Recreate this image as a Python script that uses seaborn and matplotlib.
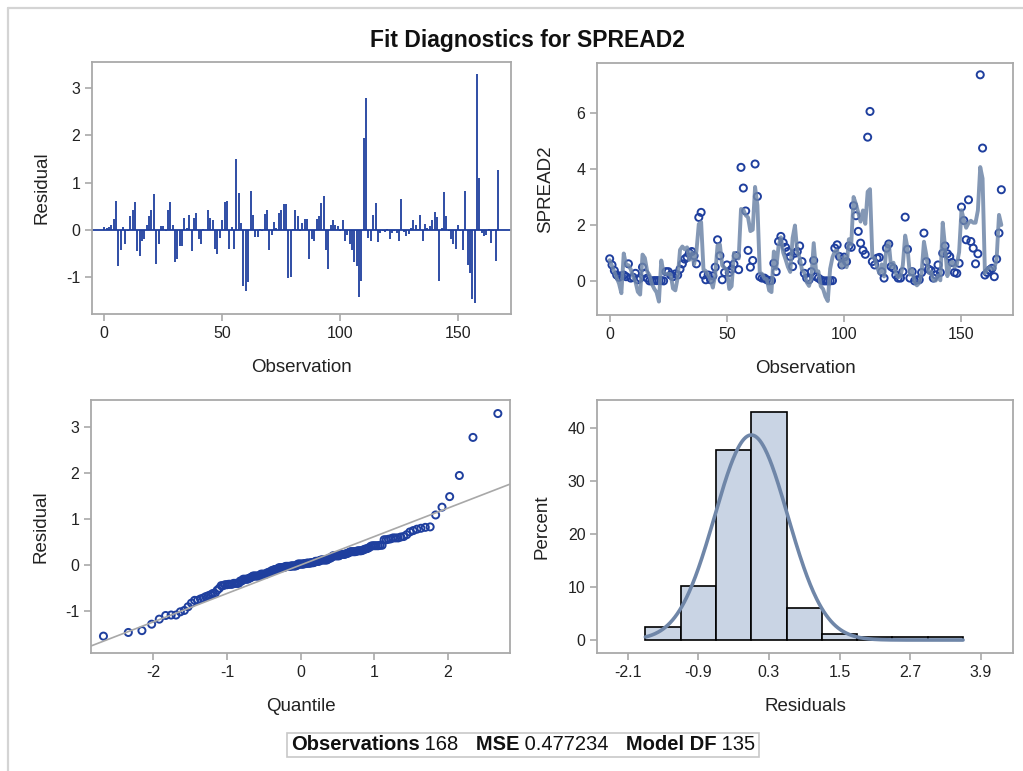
import numpy as np
import pandas as pd
import matplotlib
matplotlib.use("Agg")
import matplotlib.pyplot as plt
import seaborn as sns
from statistics import NormalDist
from matplotlib.patches import Rectangle
from matplotlib.lines import Line2D

# ---------------- data ----------------
spread2 = [
    0.79, 0.57, 0.37, 0.21, 0.13, 0.18, 0.21, 0.15, 0.61, 0.10,
    0.13, 0.27, 0.04, 0.10, 0.49, 0.27, 0.10, 0.00, 0.00, 0.01,
    0.01, 0.01, 0.01, 0.00, 0.33, 0.33, 0.21, 0.15, 0.25, 0.21,
    0.42, 0.61, 0.78, 0.85, 1.00, 1.05, 0.90, 0.61, 2.27, 2.45,
    0.21, 0.04, 0.21, 0.04, 0.18, 0.49, 1.47, 0.90, 0.04, 0.30,
    0.57, 0.30, 0.42, 0.60, 0.90, 0.40, 4.06, 3.32, 2.50, 1.09,
    0.49, 0.73, 4.18, 3.02, 0.15, 0.10, 0.10, 0.04, 0.00, 0.01,
    0.63, 0.33, 1.41, 1.59, 1.37, 1.20, 1.05, 0.87, 0.51, 0.99,
    1.05, 1.25, 0.69, 0.27, 0.10, 0.04, 0.33, 0.73,
    0.15, 0.10, 0.04, 0.00, 0.00, 0.00, 0.00, 0.01, 1.17, 1.29,
    0.87, 0.57, 0.85, 0.69, 1.25, 1.20, 2.69, 2.33, 1.77, 1.35,
    1.09, 0.95, 5.14, 6.06, 0.69, 0.57, 0.81, 0.84, 0.33, 0.10,
    1.17, 1.32, 0.51, 0.45, 0.21, 0.10, 0.10, 0.33, 2.28, 1.13,
    0.10, 0.33, 0.00, 0.04, 0.04, 0.30, 1.71, 0.69, 0.42, 0.37,
    0.10, 0.21, 0.57, 0.30, 0.99, 1.25, 0.97, 0.87, 0.66, 0.30,
    0.27, 0.63, 2.64, 2.16, 1.47, 2.90, 1.41, 1.17, 0.61, 0.97,
    7.37, 4.75, 0.21, 0.30, 0.39, 0.45, 0.15, 0.78, 1.71, 3.26,
]

residual = [
    0.05, 0.04, 0.06, 0.11, 0.23, 0.62, -0.77, -0.42, 0.05, -0.31,
    -0.02, 0.30, 0.43, 0.59, -0.45, -0.55, -0.24, -0.20, 0.11, 0.29,
    0.42, 0.75, -0.72, -0.29, 0.08, 0.08, -0.03, 0.42, 0.59, 0.10,
    -0.69, -0.62, -0.35, -0.35, 0.25, 0.03, 0.31, -0.45, 0.24, 0.35,
    -0.20, -0.31, 0.02, -0.01, 0.42, 0.26, 0.20, -0.40, -0.51, -0.17,
    0.20, 0.59, 0.61, -0.40, 0.05, -0.40, 1.49, 0.78, 0.15, -1.18,
    -1.29, -1.10, 0.82, 0.32, -0.15, -0.15, 0.02, -0.02, 0.34, 0.41,
    -0.42, -0.10, 0.17, 0.03, 0.36, 0.43, 0.55, 0.55, -1.02, -0.99,
    0.02, 0.42, 0.29, -0.02, 0.15, 0.22, 0.23, -0.62, -0.20, -0.24,
    0.23, 0.29, 0.56, 0.72, -0.43, -0.83, 0.11, 0.20, 0.11, 0.08,
    -0.02, 0.20, -0.24, -0.10, -0.31, -0.42, -0.67, -0.77, -1.43, -1.09,
    1.95, 2.78, -0.17, -0.24, 0.31, 0.57, -0.26, -0.06, -0.03, -0.05,
    0.02, -0.20, -0.06, -0.03, -0.06, -0.24, 0.66, -0.05, -0.12, -0.08,
    0.04, 0.20, 0.11, 0.02, 0.31, -0.24, 0.13, 0.04, 0.08, 0.20,
    0.38, 0.28, -1.09, 0.04, 0.80, 0.29, -0.03, -0.20, -0.31, -0.40,
    0.11, -0.03, -0.43, 0.83, -0.74, -0.91, -1.47, -1.55, 3.30, 1.09,
    -0.06, -0.12, -0.10, 0.02, -0.28, -0.02, -0.65, 1.26,
]

hist_edges = [-1.8, -1.2, -0.6, 0.0, 0.6, 1.2, 1.8, 2.4, 3.0, 3.6]
normal_mu = 0.0
normal_sigma = 0.62

title = "Fit Diagnostics for SPREAD2"
footer = [("Observations", True), (" 168", False), ("   MSE", True),
          (" 0.477234", False), ("   Model DF", True), (" 135", False)]

# ---------------- derived frames ----------------
n = len(residual)
obs = np.arange(n)
df = pd.DataFrame({"Observation": obs, "SPREAD2": spread2, "Residual": residual})
df["Predicted"] = df["SPREAD2"] - df["Residual"]
nd = NormalDist()
qq = pd.DataFrame({
    "Quantile": [nd.inv_cdf((i - 0.375) / (n + 0.25)) for i in range(1, n + 1)],
    "Residual": np.sort(df["Residual"].values),
})

# ---------------- style ----------------
sns.set_style("ticks")
plt.rcParams["font.family"] = ["Liberation Sans", "DejaVu Sans"]
plt.rcParams["axes.unicode_minus"] = False
TICK_FS = 11.5
LAB_FS = 13.5
BLUE = "#1F3F9E"
SPINE = "#A9A9A9"
TXT = "#222222"

W, H = 1023, 771
fig = plt.figure(figsize=(W / 100, H / 100), dpi=100)


def rect(l, t, r, b):
    return [l / W, 1 - b / H, (r - l) / W, (b - t) / H]


def style(ax, ypad):
    for s in ax.spines.values():
        s.set_color(SPINE)
        s.set_linewidth(1.3)
    ax.tick_params(axis="both", colors=SPINE, labelcolor=TXT, labelsize=TICK_FS,
                   length=5, width=1.2, direction="out")
    ax.xaxis.label.set_size(LAB_FS)
    ax.yaxis.label.set_size(LAB_FS)
    ax.xaxis.label.set_color(TXT)
    ax.yaxis.label.set_color(TXT)
    ax.xaxis.labelpad = 13
    ax.yaxis.labelpad = ypad


# --- top-left: residual needles
ax1 = fig.add_axes(rect(92, 62, 510.7, 314))
ax1.vlines(df["Observation"], 0, df["Residual"], color=BLUE, lw=1.3)
ax1.axhline(0, color=BLUE, lw=1.3)
ax1.set_xlim(-5.2, 172.3)
ax1.set_ylim(-1.78, 3.55)
ax1.set_xticks([0, 50, 100, 150])
ax1.set_yticks([-1, 0, 1, 2, 3])
ax1.set_xlabel("Observation")
ax1.set_ylabel("Residual")
style(ax1, 11)

# --- top-right: observed and predicted
ax2 = fig.add_axes(rect(597, 62.5, 1013.3, 315))
sns.lineplot(data=df, x="Observation", y="Predicted", ax=ax2, color="#6F86A8",
             lw=2.8, alpha=0.85)
sns.scatterplot(data=df, x="Observation", y="SPREAD2", ax=ax2, marker="o",
                s=26, facecolor="none", edgecolor=BLUE, linewidth=1.4)
ax2.set_xlim(-5.4, 172.1)
ax2.set_ylim(-1.22, 7.81)
ax2.set_xticks([0, 50, 100, 150])
ax2.set_yticks([0, 2, 4, 6])
ax2.set_xlabel("Observation")
ax2.set_ylabel("SPREAD2")
style(ax2, 16)

# --- bottom-left: QQ plot
ax3 = fig.add_axes(rect(91, 400, 510, 653.3))
ax3.axline((0, normal_mu), slope=normal_sigma, color="#A8A8A8", lw=1.2)
sns.scatterplot(data=qq, x="Quantile", y="Residual", ax=ax3, marker="o",
                s=26, facecolor="none", edgecolor=BLUE, linewidth=1.4)
ax3.set_xlim(-2.846, 2.842)
ax3.set_ylim(-1.924, 3.595)
ax3.set_xticks([-2, -1, 0, 1, 2])
ax3.set_yticks([-1, 0, 1, 2, 3])
ax3.set_xlabel("Quantile")
ax3.set_ylabel("Residual")
style(ax3, 11)

# --- bottom-right: histogram with normal curve
ax4 = fig.add_axes(rect(597.3, 400, 1013, 653.3))
sns.histplot(data=df, x="Residual", bins=hist_edges, stat="percent", ax=ax4,
             color="#C9D4E4", edgecolor="black", linewidth=1.2, alpha=1)
bw = hist_edges[1] - hist_edges[0]
xs = np.linspace(hist_edges[0], hist_edges[-1], 400)
ys = [100 * bw * NormalDist(normal_mu, normal_sigma).pdf(v) for v in xs]
sns.lineplot(x=xs, y=ys, ax=ax4, color="#6F86A8", lw=2.6)
ax4.set_xlim(-2.617, 4.449)
ax4.set_ylim(-2.5, 45.2)
ax4.set_xticks([-2.1, -0.9, 0.3, 1.5, 2.7, 3.9])
ax4.set_xticklabels(["-2.1", "-0.9", "0.3", "1.5", "2.7", "3.9"])
ax4.set_yticks([0, 10, 20, 30, 40])
ax4.set_xlabel("Residuals")
ax4.set_ylabel("Percent")
style(ax4, 12)

# --- title
fig.text(527 / W, 1 - 40 / H, title, ha="center", va="center",
         fontsize=16.5, fontweight="bold", color="#111111")

# --- outer frame (left and top only)
fig.add_artist(Line2D([8 / W, 8 / W], [0, 1 - 7.5 / H], transform=fig.transFigure,
                      color="#D4D4D4", lw=1.6))
fig.add_artist(Line2D([8 / W, 1], [1 - 7.5 / H, 1 - 7.5 / H], transform=fig.transFigure,
                      color="#D4D4D4", lw=1.6))

# --- footer
fig.canvas.draw()
renderer = fig.canvas.get_renderer()
parts = []
total = 0.0
for s, bold in footer:
    t = fig.text(0, 0, s, fontsize=14.5, fontweight="bold" if bold else "normal",
                 color="#111111", va="center", ha="left")
    w = t.get_window_extent(renderer).width
    parts.append((t, w))
    total += w
cx, cy = 523, 745
x0 = cx - total / 2
x = x0
for t, w in parts:
    t.set_position((x / W, 1 - cy / H))
    x += w
fig.add_artist(Rectangle(((x0 - 4) / W, 1 - 757 / H), (total + 8) / W, 24 / H,
                         transform=fig.transFigure, fill=False,
                         edgecolor="#C8C8C8", lw=1.2))

fig.savefig("out.png", dpi=100)
